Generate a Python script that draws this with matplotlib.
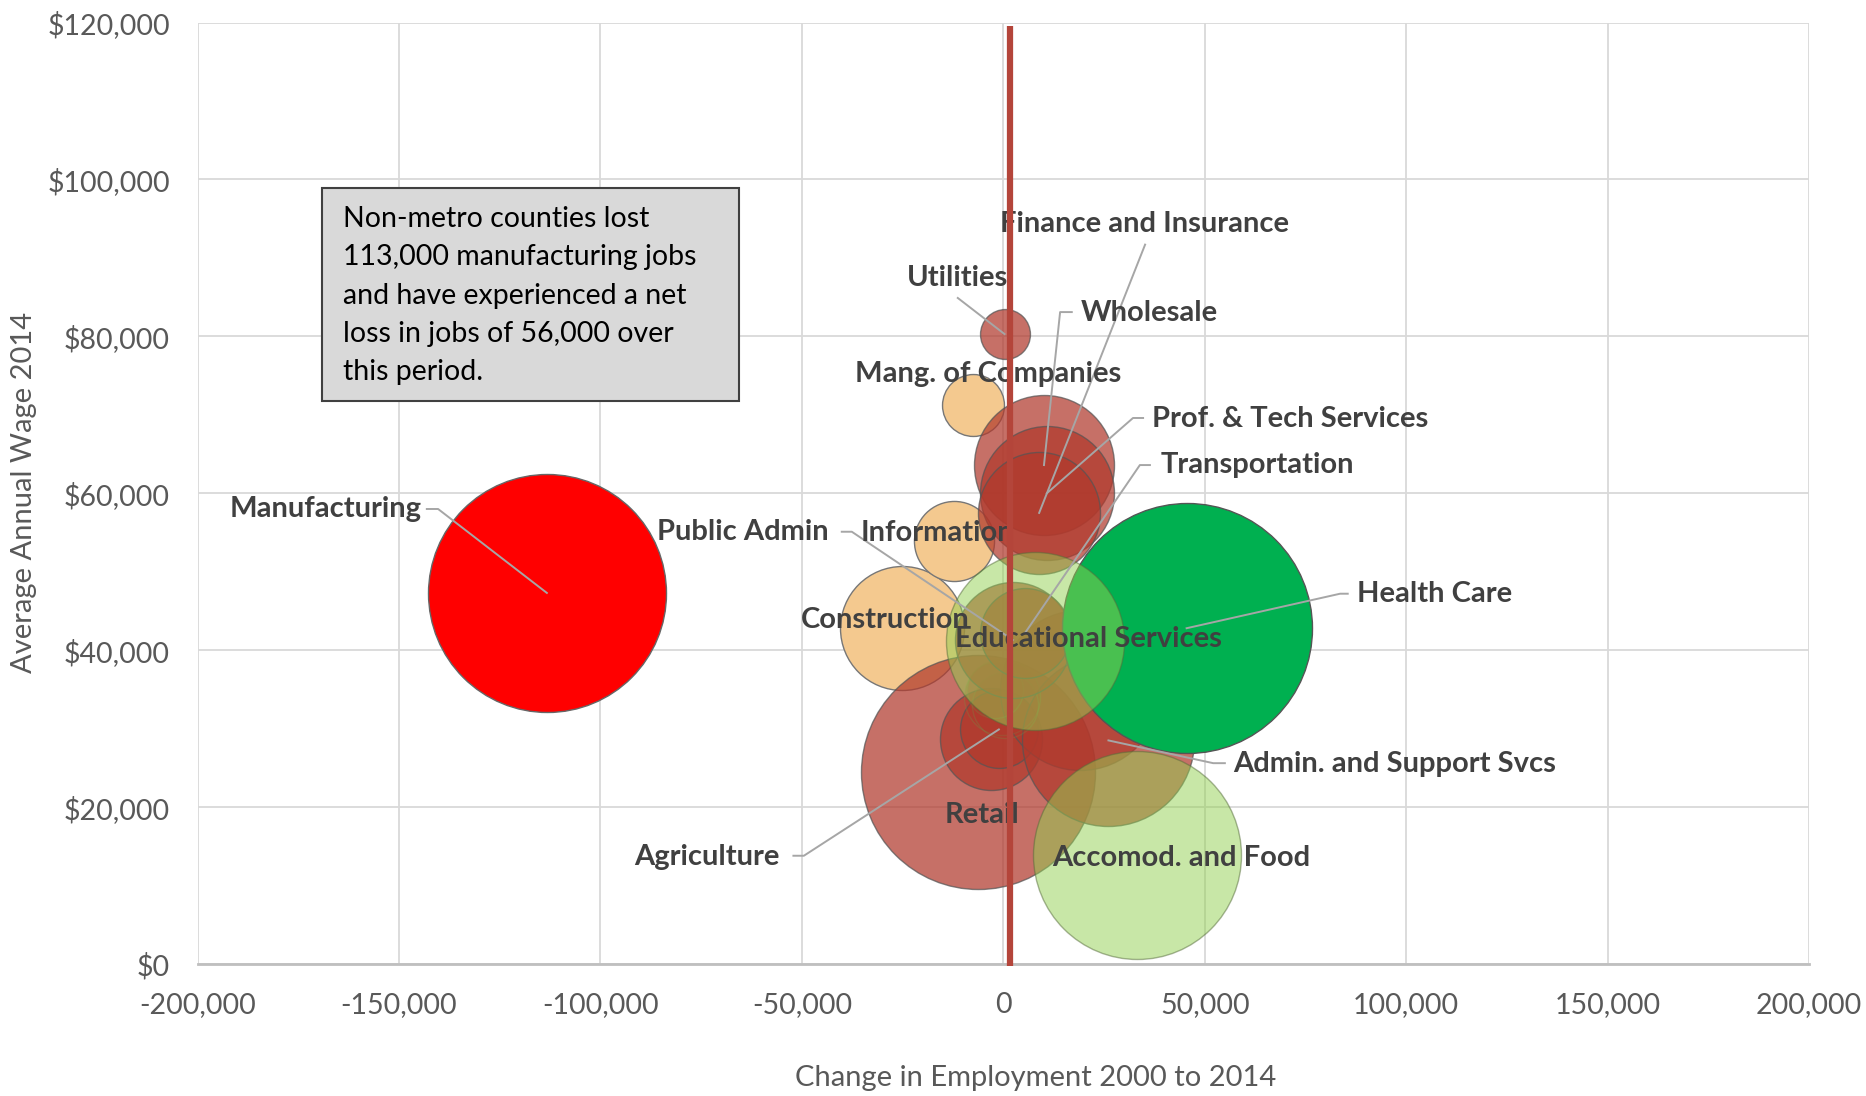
import matplotlib.pyplot as plt
from matplotlib.patches import Rectangle
import numpy as np

plt.rcParams['font.family'] = ['Lato', 'DejaVu Sans']

# bubble data: change in jobs 2000-2014, average wage 2014, employment (thousands)
industries = [
    "Manufacturing", "Construction", "Information", "Mang. of Companies",
    "Utilities", "Wholesale", "Prof. & Tech Services", "Finance and Insurance",
    "Retail", "(unlabeled 1)", "Agriculture", "(unlabeled 2)",
    "Admin. and Support Svcs", "(unlabeled 3)", "(unlabeled 4)", "(unlabeled 5)",
    "Public Admin", "Transportation", "Health Care",
    "Educational Services", "Accomod. and Food",
]
job_change = [-113300, -25100, -12200, -7500, 300, 10100, 10800, 8900,
              -6400, -3100, -1100, 19000, 26100, -300, 400, -2100,
              2400, 5400, 45500, 7900, 33300]
avg_wage = [47300, 42800, 53900, 71300, 80300, 63600, 60000, 57500,
            24500, 28700, 29900, 34900, 28500, 34000, 33000, 34900,
            41300, 42200, 42800, 41200, 13900]
employment = [2023, 549, 229, 137, 89, 700, 641, 532,
              1956, 372, 217, 914, 1057, 206, 156, 112,
              481, 289, 2232, 1132, 1545]
group = ["loss", "orange", "orange", "orange", "red", "red", "red", "red",
         "red", "red", "red", "red", "red", "faint", "faint", "faint",
         "red", "red", "gain", "light", "light"]

net_line_x = 1700

group_style = {
    "loss": ("#FF0000", 1.0, "#666666"),
    "orange": ("#F4C98F", 1.0, "#777777"),
    "red": ("#B0392C", 0.72, "#555555"),
    "faint": ("#B0392C", 0.25, "#6E9A4A"),
    "gain": ("#00B050", 1.0, "#555555"),
    "light": ("#92D050", 0.5, "#556B3A"),
}

# label text anchor (left, middle) and leader path start points
labels = {
    "Finance and Insurance": ((-900, 94300), [(35200, 91700)]),
    "Utilities": ((-24000, 87400), [(-11300, 84900)]),
    "Wholesale": ((19200, 83000), [(17000, 83100), (14100, 83100)]),
    "Mang. of Companies": ((-36700, 75200), None),
    "Prof. & Tech Services": ((36900, 69500), [(34700, 69600), (32200, 69600)]),
    "Transportation": ((39000, 63600), [(36400, 63600), (33900, 63600)]),
    "Manufacturing": ((-192000, 58000), [(-143100, 58000), (-140300, 58000)]),
    "Public Admin": ((-86000, 55100), [(-40100, 55100), (-37600, 55100)]),
    "Information": ((-35500, 54900), None),
    "Health Care": ((87700, 47200), [(85500, 47200), (83600, 47200)]),
    "Construction": ((-50200, 43800), None),
    "Educational Services": ((-12100, 41400), None),
    "Admin. and Support Svcs": ((57000, 25500), [(55000, 25600), (52100, 25600)]),
    "Retail": ((-14500, 19000), None),
    "Agriculture": ((-91600, 13700), [(-52100, 13800), (-49500, 13800)]),
    "Accomod. and Food": ((12100, 13500), None),
}

W, H, DPI = 1866, 1096, 100
fig = plt.figure(figsize=(W / DPI, H / DPI), dpi=DPI)
ax = fig.add_axes([197.6 / W, 1 - 964 / H, (1809 - 197.6) / W, (964 - 22.6) / H])
ax.set_xlim(-200000, 200000)
ax.set_ylim(0, 120000)

# bubble area proportional to employment
for i, name in enumerate(industries):
    col, a, ec = group_style[group[i]]
    r_px = np.sqrt(employment[i] * 7.0)
    s = (2 * r_px * 72 / DPI) ** 2
    ax.scatter(job_change[i], avg_wage[i], s=s, color=col, alpha=a,
               edgecolors=ec, linewidths=1.0, zorder=3 + i * 0.01)

for name, (pos, path) in labels.items():
    i = industries.index(name)
    if path:
        xs = [p[0] for p in path] + [job_change[i]]
        ys = [p[1] for p in path] + [avg_wage[i]]
        ax.plot(xs, ys, color="#A6A6A6", lw=1.4, zorder=4)
    ax.text(pos[0], pos[1], name, ha="left", va="center", fontsize=21,
            fontweight="bold", color="#404040", zorder=5)

ax.plot([net_line_x, net_line_x], [-300, 119600], color="#B4453A", lw=4.5,
        zorder=6, clip_on=False, solid_capstyle="butt")

ax.set_xticks(np.arange(-200000, 200001, 50000))
ax.set_yticks(np.arange(0, 120001, 20000))
ax.set_xticklabels([f"{v:,}" for v in range(-200000, 200001, 50000)])
ax.set_yticklabels([f"${v:,}" for v in range(0, 120001, 20000)])
ax.tick_params(length=0, labelsize=20.5, labelcolor="#595959")
ax.tick_params(axis="x", pad=20)
ax.tick_params(axis="y", pad=20)
ax.grid(color="#D9D9D9", lw=1.3, zorder=0)
ax.set_axisbelow(True)
for sp in ["top", "right", "left"]:
    ax.spines[sp].set_visible(False)
ax.spines["bottom"].set_color("#BFBFBF")
ax.spines["bottom"].set_linewidth(2)

fig.text(0.555, 1 - 1078 / H, "Change in Employment 2000 to 2014", ha="center",
         va="center", fontsize=21, color="#595959")
fig.text(0.0129, 1 - 492.7 / H, "Average Annual Wage 2014", ha="center",
         va="center", rotation=90, fontsize=21, color="#595959")

box = Rectangle((0.0775, 0.598), 0.2585, 0.226, transform=ax.transAxes,
                facecolor="#D9D9D9", edgecolor="#404040", lw=1.5, zorder=7)
ax.add_patch(box)
ax.text(0.090, 0.805,
        "Non-metro counties lost\n113,000 manufacturing jobs\nand have experienced a net\n"
        "loss in jobs of 56,000 over\nthis period.",
        transform=ax.transAxes, ha="left", va="top", fontsize=20.5,
        color="black", linespacing=1.58, zorder=8)

fig.savefig("out.png", dpi=DPI)
